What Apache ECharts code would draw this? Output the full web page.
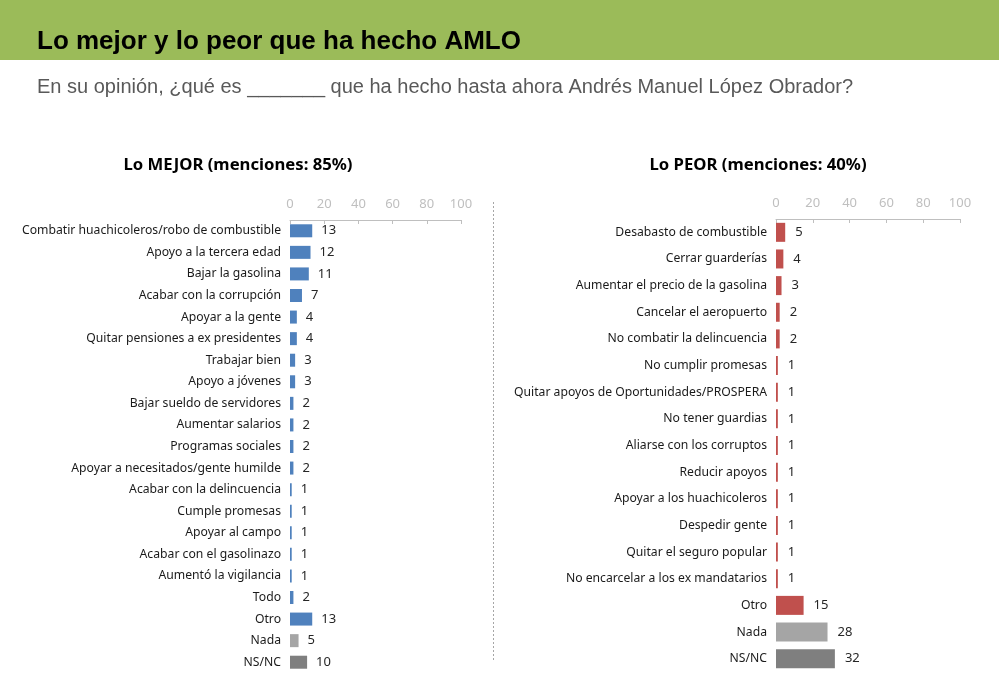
<!DOCTYPE html>
<html>
<head>
<meta charset="utf-8">
<script src="https://cdn.jsdelivr.net/npm/echarts@6/dist/echarts.min.js"></script>
<style>
  html, body { margin: 0; padding: 0; background: #fff; }
  #main { width: 999px; height: 680px; }
</style>
</head>
<body>
<div id="main"></div>
<script>
var mejorCats = ['Combatir huachicoleros/robo de combustible', 'Apoyo a la tercera edad', 'Bajar la gasolina',
    'Acabar con la corrupción', 'Apoyar a la gente', 'Quitar pensiones a ex presidentes', 'Trabajar bien',
    'Apoyo a jóvenes', 'Bajar sueldo de servidores', 'Aumentar salarios', 'Programas sociales',
    'Apoyar a necesitados/gente humilde', 'Acabar con la delincuencia', 'Cumple promesas', 'Apoyar al campo',
    'Acabar con el gasolinazo', 'Aumentó la vigilancia', 'Todo', 'Otro', 'Nada', 'NS/NC'];
var mejorVals = [13, 12, 11, 7, 4, 4, 3, 3, 2, 2, 2, 2, 1, 1, 1, 1, 1, 2, 13, 5, 10];

var peorCats = ['Desabasto de combustible', 'Cerrar guarderías', 'Aumentar el precio de la gasolina',
    'Cancelar el aeropuerto', 'No combatir la delincuencia', 'No cumplir promesas',
    'Quitar apoyos de Oportunidades/PROSPERA', 'No tener guardias', 'Aliarse con los corruptos',
    'Reducir apoyos', 'Apoyar a los huachicoleros', 'Despedir gente', 'Quitar el seguro popular',
    'No encarcelar a los ex mandatarios', 'Otro', 'Nada', 'NS/NC'];
var peorVals = [5, 4, 3, 2, 2, 1, 1, 1, 1, 1, 1, 1, 1, 1, 15, 28, 32];

var axisTicks = [0, 20, 40, 60, 80, 100];

var FONT = '"Noto Sans", sans-serif';

// colour per bar: "Nada" and "NS/NC" are grey
function barData(cats, vals, main) {
    return vals.map(function (v, i) {
        var c = main;
        if (cats[i] === 'Nada') c = '#A5A5A5';
        if (cats[i] === 'NS/NC') c = '#7F7F7F';
        return { value: v, itemStyle: { color: c } };
    });
}

function xAx(gridIndex) {
    return {
        gridIndex: gridIndex,
        type: 'value',
        position: 'top',
        min: axisTicks[0],
        max: axisTicks[axisTicks.length - 1],
        interval: axisTicks[1] - axisTicks[0],
        splitLine: { show: false },
        axisLine: { show: true, lineStyle: { color: '#BFBFBF', width: 1 } },
        axisTick: { show: true, inside: true, length: 4, lineStyle: { color: '#BFBFBF' } },
        axisLabel: { color: '#BFBFBF', fontSize: 13, fontFamily: FONT, margin: 9 }
    };
}

function yAx(gridIndex, cats) {
    return {
        gridIndex: gridIndex,
        type: 'category',
        inverse: true,
        data: cats,
        axisLine: { show: false },
        axisTick: { show: false },
        axisLabel: { color: '#1a1a1a', fontSize: 12.2, fontFamily: FONT, margin: 9 }
    };
}

var chart = echarts.init(document.getElementById('main'));
var option = {
    backgroundColor: '#fff',
    animation: false,
    title: [
        {
            text: 'Lo MEJOR (menciones: 85%)',
            left: 233, top: 152, textAlign: 'center',
            textStyle: { fontSize: 16.7, fontWeight: 'bold', color: '#000', fontFamily: FONT }
        },
        {
            text: 'Lo PEOR (menciones: 40%)',
            left: 753, top: 152, textAlign: 'center',
            textStyle: { fontSize: 16.7, fontWeight: 'bold', color: '#000', fontFamily: FONT }
        }
    ],
    graphic: [
        { type: 'rect', left: 0, top: 0, shape: { width: 999, height: 60 }, style: { fill: '#9BBB59' } },
        {
            type: 'text', left: 37, top: 29,
            style: { text: 'Lo mejor y lo peor que ha hecho AMLO', fill: '#000',
                     font: 'bold 26px "Liberation Sans", Arial, sans-serif' }
        },
        {
            type: 'text', left: 37, top: 77,
            style: { text: 'En su opinión, ¿qué es _______ que ha hecho hasta ahora Andrés Manuel López Obrador?',
                     fill: '#595959', font: '20px "Liberation Sans", Arial, sans-serif' }
        },
        {
            type: 'line', shape: { x1: 493.5, y1: 202, x2: 493.5, y2: 660 },
            style: { stroke: '#A6A6A6', lineWidth: 1, lineDash: [2, 2] }
        }
    ],
    grid: [
        { left: 290, top: 220, width: 171, height: 453 },
        { left: 776, top: 219, width: 184, height: 453 }
    ],
    xAxis: [xAx(0), xAx(1)],
    yAxis: [yAx(0, mejorCats), yAx(1, peorCats)],
    series: [
        {
            type: 'bar', xAxisIndex: 0, yAxisIndex: 0,
            barWidth: 13,
            data: barData(mejorCats, mejorVals, '#4F81BD'),
            label: { show: true, position: 'right', distance: 9, color: '#262626', fontSize: 13, fontFamily: FONT }
        },
        {
            type: 'bar', xAxisIndex: 1, yAxisIndex: 1,
            barWidth: 19,
            data: barData(peorCats, peorVals, '#C0504D'),
            label: { show: true, position: 'right', distance: 10, color: '#262626', fontSize: 13, fontFamily: FONT }
        }
    ]
};
chart.setOption(option);
</script>
</body>
</html>
